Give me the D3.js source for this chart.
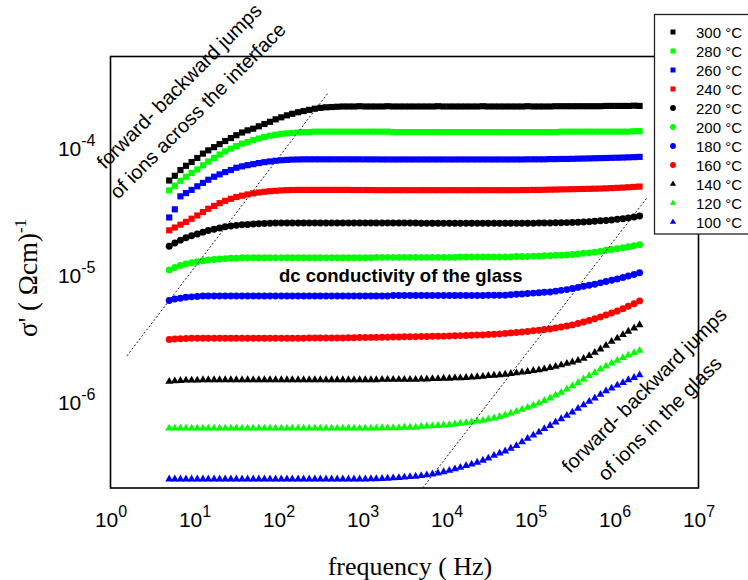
<!DOCTYPE html>
<html>
<head>
<meta charset="utf-8">
<script src="https://cdn.jsdelivr.net/npm/d3@7"></script>
<style>
  html, body { margin: 0; padding: 0; background: #fff; }
  svg { display: block; }
</style>
</head>
<body>
<svg id="chart" width="748" height="580"></svg>
<script>
// Measurement frequencies (Hz), 15 points per decade
const frequency = [
  5, 5.83, 6.80, 7.92, 9.24, 10.8, 12.6, 14.6, 17.1, 19.9, 23.2, 27.1, 31.5, 36.8, 42.9,
  50, 58.3, 68.0, 79.2, 92.4, 108, 126, 146, 171, 199, 232, 271, 315, 368, 429,
  500, 583, 680, 792, 924, 1080, 1260, 1460, 1710, 1990, 2320, 2710, 3150, 3680, 4290,
  5000, 5830, 6800, 7920, 9240, 10800, 12600, 14600, 17100, 19900, 23200, 27100, 31500, 36800, 42900,
  50000, 58300, 68000, 79200, 92400, 108000, 126000, 146000, 171000, 199000, 232000, 271000, 315000, 368000, 429000,
  500000, 583000, 680000, 792000, 924000, 1080000, 1260000, 1460000, 1710000, 1990000
];

// Real part of the conductivity, in units of 1e-6 (Ωcm)^-1
const SIGMA_UNIT = 1e-6;

const sigma300 = [
  52.8, 57.5, 63.8, 68.9, 73.8, 79.4, 85.9, 91.2, 96.6, 102, 108, 114, 120, 126, 131,
  135, 141, 147, 153, 160, 166, 172, 177, 182, 186, 190, 194, 197, 199, 200,
  201, 202, 202, 202, 203, 202, 202, 202, 202, 203, 202, 202, 202, 202, 202,
  202, 202, 202, 203, 202, 202, 202, 202, 202, 202, 202, 203, 202, 202, 202,
  202, 202, 202, 202, 203, 202, 202, 202, 202, 203, 203, 203, 203, 203, 203,
  203, 203, 203, 204, 204, 204, 204, 204, 205, 204
];
const sigma280 = [
  44.1, 48.0, 52.5, 56.5, 60.5, 64.5, 69.5, 74.5, 79.5, 84.5, 89.5, 94.0, 98.5, 103, 106,
  110, 113, 116, 119, 121, 123, 124, 125, 126, 127, 127, 128, 128, 128, 128,
  128, 128, 128, 128, 128, 128, 128, 128, 128, 128, 127, 127, 127, 127, 127,
  127, 127, 127, 127, 127, 127, 127, 127, 127, 127, 127, 127, 127, 127, 127,
  127, 127, 127, 127, 127, 127, 127, 127, 127, 127, 128, 128, 128, 128, 128,
  128, 128, 128, 128, 128, 128, 128, 128, 129, 129
];
const sigma260 = [
  27.0, 31.3, 39.6, 42.0, 44.5, 47.5, 50.5, 53.5, 56.5, 59.0, 61.5, 63.8, 66.5, 68.2, 69.7,
  71.0, 72.4, 73.6, 74.6, 75.5, 76.2, 76.7, 77.1, 77.3, 77.5, 77.5, 77.5, 77.5, 77.5, 77.5,
  77.5, 77.5, 77.5, 77.5, 77.5, 77.4, 77.4, 77.4, 77.3, 77.3, 77.3, 77.3, 77.3, 77.3, 77.3,
  77.3, 77.3, 77.3, 77.3, 77.3, 77.3, 77.3, 77.3, 77.3, 77.3, 77.3, 77.3, 77.3, 77.3, 77.3,
  77.3, 77.3, 77.3, 77.3, 77.5, 77.5, 77.5, 77.5, 77.8, 77.8, 78.0, 78.0, 78.2, 78.4, 78.6,
  78.8, 79.0, 79.2, 79.4, 79.6, 79.8, 80.0, 80.3, 80.6, 81.0
];
const sigma240 = [
  21.4, 22.5, 23.7, 24.9, 26.4, 28.0, 29.8, 31.6, 33.3, 35.0, 36.5, 37.9, 39.1, 40.1, 41.0,
  41.8, 42.5, 43.0, 43.5, 43.8, 44.1, 44.3, 44.4, 44.5, 44.5, 44.5, 44.5, 44.5, 44.5, 44.5,
  44.5, 44.5, 44.5, 44.4, 44.4, 44.4, 44.4, 44.3, 44.3, 44.3, 44.3, 44.3, 44.3, 44.3, 44.3,
  44.3, 44.3, 44.3, 44.3, 44.3, 44.3, 44.3, 44.3, 44.3, 44.3, 44.3, 44.3, 44.3, 44.3, 44.3,
  44.3, 44.3, 44.3, 44.4, 44.4, 44.5, 44.5, 44.6, 44.7, 44.8, 44.9, 45.0, 45.1, 45.2, 45.3,
  45.4, 45.5, 45.6, 45.8, 46.0, 46.2, 46.4, 46.7, 47.0, 47.3
];
const sigma220 = [
  16.0, 17.0, 17.9, 18.7, 19.4, 20.0, 20.7, 21.3, 21.8, 22.3, 22.8, 23.1, 23.4, 23.7, 23.8,
  24.0, 24.1, 24.2, 24.3, 24.4, 24.4, 24.4, 24.4, 24.4, 24.4, 24.4, 24.4, 24.4, 24.4, 24.4,
  24.4, 24.4, 24.4, 24.4, 24.4, 24.4, 24.4, 24.4, 24.4, 24.4, 24.4, 24.4, 24.4, 24.4, 24.4,
  24.3, 24.3, 24.3, 24.3, 24.3, 24.3, 24.3, 24.3, 24.3, 24.3, 24.3, 24.3, 24.3, 24.3, 24.3,
  24.3, 24.3, 24.3, 24.3, 24.3, 24.3, 24.4, 24.4, 24.4, 24.5, 24.5, 24.6, 24.7, 24.8, 24.9,
  25.0, 25.2, 25.4, 25.6, 25.8, 26.1, 26.4, 26.8, 27.2, 27.7
];
const sigma200 = [
  10.4, 10.9, 11.3, 11.6, 11.9, 12.1, 12.3, 12.5, 12.6, 12.7, 12.8, 12.9, 12.9, 13.0, 13.0,
  13.0, 13.0, 13.0, 13.0, 13.0, 13.0, 13.0, 13.0, 13.0, 13.0, 13.0, 13.0, 13.0, 13.0, 13.0,
  13.0, 13.0, 13.0, 13.0, 13.0, 13.0, 13.0, 13.1, 13.1, 13.1, 13.1, 13.1, 13.1, 13.1, 13.1,
  13.1, 13.1, 13.1, 13.1, 13.1, 13.1, 13.1, 13.2, 13.2, 13.2, 13.2, 13.2, 13.2, 13.2, 13.2,
  13.2, 13.2, 13.3, 13.3, 13.3, 13.4, 13.4, 13.5, 13.5, 13.6, 13.6, 13.7, 13.8, 13.9, 14.1,
  14.2, 14.4, 14.6, 14.9, 15.1, 15.3, 15.6, 15.9, 16.2, 16.5
];
const sigma180 = [
  6.00, 6.15, 6.25, 6.35, 6.40, 6.45, 6.50, 6.50, 6.50, 6.50, 6.50, 6.50, 6.50, 6.50, 6.50,
  6.50, 6.50, 6.50, 6.50, 6.50, 6.50, 6.50, 6.50, 6.50, 6.50, 6.50, 6.50, 6.50, 6.50, 6.50,
  6.50, 6.50, 6.50, 6.50, 6.50, 6.50, 6.50, 6.50, 6.50, 6.50, 6.55, 6.55, 6.55, 6.55, 6.55,
  6.55, 6.55, 6.55, 6.55, 6.55, 6.55, 6.55, 6.55, 6.55, 6.55, 6.55, 6.55, 6.58, 6.58, 6.58,
  6.60, 6.65, 6.70, 6.75, 6.80, 6.85, 6.90, 6.95, 7.00, 7.10, 7.20, 7.30, 7.45, 7.60, 7.75,
  7.90, 8.05, 8.25, 8.45, 8.65, 8.85, 9.10, 9.35, 9.60, 9.90
];
const sigma160 = [
  2.95, 2.98, 3.00, 3.01, 3.02, 3.02, 3.02, 3.02, 3.02, 3.02, 3.02, 3.02, 3.02, 3.02, 3.02,
  3.02, 3.02, 3.02, 3.02, 3.02, 3.02, 3.02, 3.02, 3.02, 3.02, 3.03, 3.03, 3.03, 3.03, 3.03,
  3.04, 3.04, 3.05, 3.05, 3.06, 3.06, 3.07, 3.07, 3.08, 3.08, 3.09, 3.09, 3.10, 3.10, 3.11,
  3.12, 3.12, 3.13, 3.13, 3.14, 3.15, 3.16, 3.17, 3.18, 3.19, 3.20, 3.21, 3.23, 3.25, 3.27,
  3.30, 3.33, 3.36, 3.39, 3.42, 3.46, 3.50, 3.54, 3.58, 3.64, 3.70, 3.77, 3.85, 3.95, 4.05,
  4.17, 4.30, 4.45, 4.60, 4.77, 4.95, 5.17, 5.40, 5.65, 5.95
];
const sigma140 = [
  1.38, 1.39, 1.40, 1.41, 1.41, 1.41, 1.42, 1.42, 1.42, 1.42, 1.42, 1.42, 1.42, 1.42, 1.42,
  1.42, 1.42, 1.42, 1.42, 1.42, 1.42, 1.42, 1.42, 1.42, 1.42, 1.42, 1.42, 1.42, 1.42, 1.42,
  1.42, 1.42, 1.42, 1.42, 1.42, 1.42, 1.42, 1.42, 1.43, 1.43, 1.43, 1.43, 1.43, 1.43, 1.43,
  1.44, 1.44, 1.45, 1.45, 1.46, 1.46, 1.47, 1.47, 1.48, 1.49, 1.50, 1.51, 1.53, 1.54, 1.55,
  1.57, 1.59, 1.61, 1.63, 1.65, 1.68, 1.70, 1.73, 1.77, 1.81, 1.86, 1.91, 1.96, 2.02, 2.09,
  2.20, 2.33, 2.48, 2.65, 2.85, 3.02, 3.22, 3.42, 3.63, 3.85
];
const sigma120 = [
  0.590, 0.590, 0.590, 0.590, 0.590, 0.590, 0.590, 0.590, 0.590, 0.590, 0.590, 0.590, 0.590, 0.590, 0.590,
  0.590, 0.590, 0.590, 0.590, 0.590, 0.590, 0.590, 0.590, 0.590, 0.590, 0.590, 0.590, 0.590, 0.590, 0.590,
  0.590, 0.590, 0.590, 0.590, 0.590, 0.590, 0.590, 0.590, 0.595, 0.595, 0.595, 0.595, 0.600, 0.600, 0.600,
  0.610, 0.612, 0.615, 0.620, 0.625, 0.630, 0.637, 0.645, 0.652, 0.660, 0.670, 0.680, 0.695, 0.710, 0.730,
  0.750, 0.775, 0.800, 0.830, 0.860, 0.895, 0.930, 0.975, 1.02, 1.075, 1.13, 1.20, 1.27, 1.35, 1.44,
  1.53, 1.62, 1.72, 1.82, 1.92, 2.02, 2.12, 2.22, 2.32, 2.42
];
const sigma100 = [
  0.235, 0.235, 0.235, 0.235, 0.235, 0.235, 0.235, 0.235, 0.235, 0.235, 0.235, 0.235, 0.235, 0.235, 0.235,
  0.235, 0.235, 0.235, 0.235, 0.235, 0.235, 0.235, 0.235, 0.235, 0.235, 0.235, 0.235, 0.235, 0.235, 0.235,
  0.235, 0.235, 0.235, 0.235, 0.235, 0.235, 0.236, 0.236, 0.237, 0.238, 0.240, 0.241, 0.243, 0.245, 0.247,
  0.250, 0.253, 0.257, 0.262, 0.268, 0.275, 0.282, 0.290, 0.299, 0.308, 0.318, 0.330, 0.343, 0.360, 0.375,
  0.390, 0.410, 0.430, 0.460, 0.490, 0.520, 0.550, 0.585, 0.620, 0.660, 0.700, 0.745, 0.790, 0.845, 0.900,
  0.960, 1.02, 1.09, 1.16, 1.22, 1.29, 1.35, 1.42, 1.48, 1.55
];

const temperatures = ["300 °C", "280 °C", "260 °C", "240 °C", "220 °C", "200 °C",
                      "180 °C", "160 °C", "140 °C", "120 °C", "100 °C"];
const seriesValues = [sigma300, sigma280, sigma260, sigma240, sigma220, sigma200,
                      sigma180, sigma160, sigma140, sigma120, sigma100];

// Tick values for both logarithmic axes
const xTickValues = [1e0, 1e1, 1e2, 1e3, 1e4, 1e5, 1e6, 1e7];
const yTickValues = [1e-6, 1e-5, 1e-4];

// Guide lines separating the conduction regimes: [frequency, sigma]
const guideInterface = [[1.57, 2.2e-6], [385, 2.56e-4]];
const guideGlass = [[5200, 2.0e-7], [2.47e6, 3.9e-5]];

// ---- styling ----
const colors = ["#000000", "#00ff00", "#0000ff", "#ff0000",
                "#000000", "#00ff00", "#0000ff", "#ff0000",
                "#000000", "#00ff00", "#0000ff"];
const shapes = [d3.symbolSquare, d3.symbolSquare, d3.symbolSquare, d3.symbolSquare,
                d3.symbolCircle, d3.symbolCircle, d3.symbolCircle, d3.symbolCircle,
                d3.symbolTriangle, d3.symbolTriangle, d3.symbolTriangle];
const markerArea = { square: 38, circle: 38, triangle: 27 };
const legendArea = { square: 25, circle: 27, triangle: 17 };
function shapeKey(s) {
  return s === d3.symbolSquare ? "square" : s === d3.symbolCircle ? "circle" : "triangle";
}

const SANS = "'Liberation Sans', Arial, Helvetica, sans-serif";
const SERIF = "'Liberation Serif', 'Times New Roman', Times, serif";

const plot = { left: 110.5, right: 698.5, top: 56.5, bottom: 488 };

const svg = d3.select("#chart");

const x = d3.scaleLog().domain([1, 1e7]).range([plot.left, plot.right]);
const y = d3.scaleLog().domain([2e-7, 5e-4]).range([plot.bottom, plot.top]);

// ---- axes (labels only, no tick marks) ----
function superscriptLabel(sel, d) {
  const exp = Math.round(Math.log10(d));
  sel.text("10");
  sel.append("tspan").attr("dy", -10).attr("font-size", 16).text(String(exp));
}

const xAxis = svg.append("g")
  .attr("transform", `translate(0,${plot.bottom})`)
  .call(d3.axisBottom(x).tickValues(xTickValues).tickSize(0).tickFormat(() => ""));
xAxis.select(".domain").remove();
xAxis.selectAll(".tick text")
  .attr("y", 39).attr("dy", null)
  .attr("font-family", SANS).attr("font-size", 21).attr("fill", "#000")
  .attr("text-anchor", "middle")
  .each(function (d) { superscriptLabel(d3.select(this), d); });

const yAxis = svg.append("g")
  .attr("transform", `translate(${plot.left},0)`)
  .call(d3.axisLeft(y).tickValues(yTickValues).tickSize(0).tickFormat(() => ""));
yAxis.select(".domain").remove();
yAxis.selectAll(".tick text")
  .attr("x", -15).attr("y", 10).attr("dy", null)
  .attr("font-family", SANS).attr("font-size", 21).attr("fill", "#000")
  .attr("text-anchor", "end")
  .each(function (d) { superscriptLabel(d3.select(this), d); });

// ---- axis titles ----
svg.append("text")
  .attr("x", 410).attr("y", 575)
  .attr("text-anchor", "middle")
  .attr("font-family", SERIF).attr("font-size", 26)
  .text("frequency ( Hz)");

const yTitle = svg.append("text")
  .attr("transform", "translate(37,278) rotate(-90)")
  .attr("text-anchor", "middle")
  .attr("font-family", SERIF).attr("font-size", 27);
yTitle.append("tspan").text("σ' ( Ωcm)");
yTitle.append("tspan").attr("dy", -11).attr("font-size", 17).text("-1");

// ---- plot frame ----
svg.append("rect")
  .attr("x", plot.left).attr("y", plot.top)
  .attr("width", plot.right - plot.left).attr("height", plot.bottom - plot.top)
  .attr("fill", "none").attr("stroke", "#000").attr("stroke-width", 1.6);

// ---- data markers ----
const seriesGroup = svg.append("g");
seriesValues.forEach((vals, i) => {
  const sym = d3.symbol().type(shapes[i]).size(markerArea[shapeKey(shapes[i])]);
  seriesGroup.append("g")
    .attr("fill", colors[i])
    .selectAll("path")
    .data(vals.map((v, k) => ({ f: frequency[k], s: v * SIGMA_UNIT })))
    .join("path")
    .attr("transform", d => `translate(${x(d.f)},${y(d.s)})`)
    .attr("d", sym);
});

// ---- dotted guide lines ----
const guideLine = d3.line().x(d => x(d[0])).y(d => y(d[1]));
[guideInterface, guideGlass].forEach(g => {
  svg.append("path")
    .attr("d", guideLine(g))
    .attr("fill", "none").attr("stroke", "#000")
    .attr("stroke-width", 0.9).attr("stroke-dasharray", "2,2");
});

// ---- annotations ----
function rotatedNote(x0, y0, txt) {
  svg.append("text")
    .attr("transform", `translate(${x0},${y0}) rotate(-45)`)
    .attr("font-family", SANS).attr("font-size", 20)
    .text(txt);
}
rotatedNote(105, 170, "forward- backward jumps");
rotatedNote(118, 200, "of ions across the interface");
rotatedNote(570, 474, "forward- backward jumps");
rotatedNote(606, 482, "of ions in the glass");

svg.append("text")
  .attr("x", 279).attr("y", 282)
  .attr("font-family", SANS).attr("font-size", 18.5).attr("font-weight", "bold")
  .text("dc conductivity of the glass");

// ---- legend ----
const legend = svg.append("g");
legend.append("rect")
  .attr("x", 654.5).attr("y", 14.5).attr("width", 100).attr("height", 219.5)
  .attr("fill", "#fff").attr("stroke", "#222").attr("stroke-width", 1.3);
temperatures.forEach((t, i) => {
  const cy = 32 + i * 19;
  legend.append("path")
    .attr("transform", `translate(673,${cy})`)
    .attr("d", d3.symbol().type(shapes[i]).size(legendArea[shapeKey(shapes[i])]))
    .attr("fill", colors[i]);
  legend.append("text")
    .attr("x", 696).attr("y", cy + 5.5)
    .attr("font-family", SANS).attr("font-size", 15)
    .text(t);
});
</script>
</body>
</html>
